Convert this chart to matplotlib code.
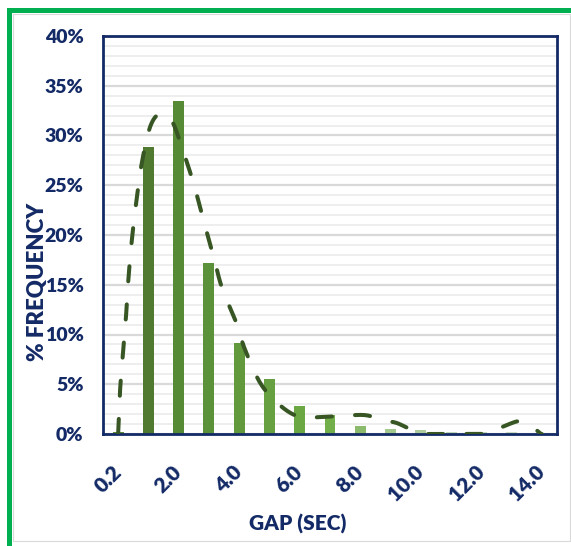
import numpy as np
import matplotlib
matplotlib.use("Agg")
import matplotlib.pyplot as plt
from matplotlib import font_manager
from matplotlib.patches import Rectangle
from matplotlib.ticker import MultipleLocator

# ---------------- data ----------------
categories = ['0.2', '1.0', '2.0', '3.0', '4.0', '5.0', '6.0', '7.0',
              '8.0', '9.0', '10.0', '11.0', '12.0', '13.0', '14.0']
frequency = [0.2, 28.8, 33.5, 17.2, 9.1, 5.5, 2.8, 1.9,
             0.85, 0.5, 0.4, 0.2, 0.2, 0.2, 0.15]
bar_colors = ['#5F8A35', '#507A2F', '#568A35', '#5B9138', '#61993C', '#67A040',
              '#6BA844', '#72AF4A', '#8BBA6D', '#A3C98F', '#ADCC9E', '#C0D6B5',
              '#C5D9BC', '#CADDC3', '#D0E0C9']

# fitted (dashed) curve: position in category units, % value
curve_pos = [0.0, 0.066, 0.165, 0.264, 0.34, 0.45, 0.59, 0.78, 1.06, 1.39, 1.77,
             2.14, 2.51, 2.81, 3.14, 3.43, 3.89, 4.19, 4.72, 5.38, 6.01, 6.67,
             7.33, 8.15, 8.75, 9.21, 9.64, 10.13, 11.95, 12.28, 12.61, 13.1,
             13.27, 13.53, 13.93, 14.0]
curve_pct = [0.0, 4.5, 8.3, 12.0, 15.6, 19.4, 23.1, 27.2, 30.9, 32.2, 31.5,
             28.5, 25.0, 21.6, 18.0, 14.7, 11.3, 8.5, 5.0, 2.8, 1.7, 1.7,
             1.8, 1.9, 1.4, 1.1, 0.5, 0.0, 0.0, 0.1, 0.6, 1.2,
             1.25, 1.1, 0.1, 0.0]

NAVY = '#132A66'
_installed = {f.name for f in font_manager.fontManager.ttflist}
_main = next((n for n in ['Liberation Sans Narrow', 'Lato', 'Roboto'] if n in _installed),
             'DejaVu Sans')
FONT = [_main, 'DejaVu Sans']
WEIGHT = 'heavy'


def catmull_rom(xs, ys, n=12):
    P = np.column_stack([xs, ys]).astype(float)
    P = np.vstack([P[0], P, P[-1]])
    out = []
    t = np.linspace(0, 1, n, endpoint=False)[:, None]
    for i in range(1, len(P) - 2):
        p0, p1, p2, p3 = P[i - 1], P[i], P[i + 1], P[i + 2]
        seg = 0.5 * ((2 * p1) + (-p0 + p2) * t + (2 * p0 - 5 * p1 + 4 * p2 - p3) * t ** 2
                     + (-p0 + 3 * p1 - 3 * p2 + p3) * t ** 3)
        out.append(seg)
    out.append(P[-2][None])
    S = np.vstack(out)
    return S[:, 0], np.clip(S[:, 1], 0, None)


W, H = 571, 546
fig = plt.figure(figsize=(W / 100, H / 100), dpi=100)
ax = fig.add_axes([103 / W, 1 - 434 / H, 454 / W, 398 / H])

idx = np.arange(len(categories))
ax.bar(idx, frequency, width=0.36, color=bar_colors, zorder=2)

cx, cy = catmull_rom(curve_pos, curve_pct)
ax.plot(cx, cy, color='#375623', lw=2.9, dashes=(3.75, 5.75),
        dash_capstyle='round', zorder=3)

ax.set_xlim(-0.5, 14.5)
ax.set_ylim(0, 40)
ax.yaxis.set_minor_locator(MultipleLocator(1))
ax.set_yticks(np.arange(0, 41, 5))
ax.set_yticklabels([f'{v}%' for v in range(0, 41, 5)])
ax.set_axisbelow(True)
ax.grid(which='minor', axis='y', color='#EEEEEE', lw=1.4)
ax.grid(which='major', axis='y', color='#D9D9D9', lw=1.6)
ax.tick_params(which='both', length=0)
ax.tick_params(axis='y', pad=14, labelsize=14, labelcolor=NAVY)

ax.set_xticks(idx[::2])
ax.set_xticklabels(categories[::2])
ax.tick_params(axis='x', pad=25, labelsize=15, labelcolor=NAVY)
for lab in ax.get_xticklabels():
    lab.set_rotation(45)
    lab.set_ha('right')
    lab.set_va('center')
    lab.set_rotation_mode('anchor')
for lab in ax.get_xticklabels() + ax.get_yticklabels():
    lab.set_fontfamily(FONT)
    lab.set_fontweight(WEIGHT)

for s in ax.spines.values():
    s.set_color(NAVY)
    s.set_linewidth(2)

fig.text(38 / W, 1 - 282 / H, '% FREQUENCY', rotation=90, ha='center', va='center',
         fontsize=16, fontweight=WEIGHT, color=NAVY, family=FONT)
fig.text(298 / W, 1 - 524 / H, 'GAP (SEC)', ha='center', va='center',
         fontsize=15, fontweight=WEIGHT, color=NAVY, family=FONT)

# outer frame
fig.patches.append(Rectangle((12.5 / W, 1 - 540.5 / H), (570 - 12.5) / W, (540.5 - 13.5) / H,
                             transform=fig.transFigure, fill=False, ec='#D9D9D9', lw=0.8))
fig.patches.append(Rectangle((8.5 / W, 1 - 549 / H), (578 - 8.5) / W, (549 - 9.5) / H,
                             transform=fig.transFigure, fill=False, ec='#00B050', lw=3.6))

fig.savefig('out.png', dpi=100)
